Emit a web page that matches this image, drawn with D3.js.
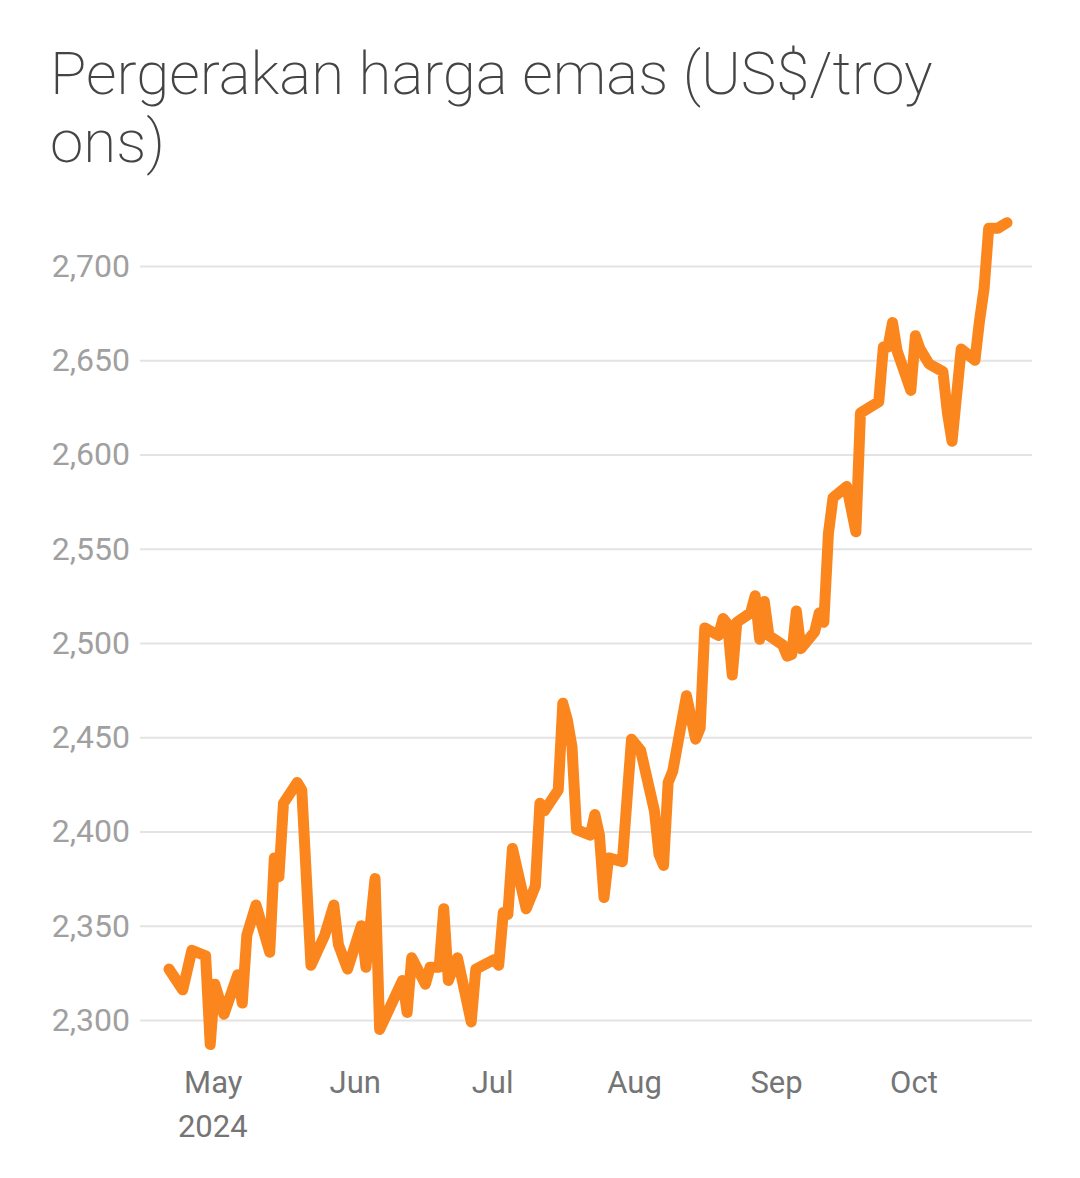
<!DOCTYPE html>
<html>
<head>
<meta charset="utf-8">
<script src="https://cdn.jsdelivr.net/npm/d3@7"></script>
<style>
  body { margin: 0; background: #fff; }
  svg { font-family: Roboto, sans-serif; }
</style>
</head>
<body>
<script>
const dates = ['2024-04-21','2024-04-24','2024-04-26','2024-04-29','2024-04-30','2024-05-01','2024-05-03','2024-05-06','2024-05-07','2024-05-08','2024-05-10','2024-05-13','2024-05-14','2024-05-15','2024-05-16','2024-05-19','2024-05-20','2024-05-22','2024-05-25','2024-05-27','2024-05-28','2024-05-30','2024-06-02','2024-06-03','2024-06-05','2024-06-06','2024-06-11','2024-06-12','2024-06-13','2024-06-16','2024-06-17','2024-06-19','2024-06-20','2024-06-21','2024-06-23','2024-06-26','2024-06-27','2024-07-01','2024-07-02','2024-07-03','2024-07-04','2024-07-05','2024-07-08','2024-07-10','2024-07-11','2024-07-12','2024-07-15','2024-07-16','2024-07-17','2024-07-18','2024-07-19','2024-07-22','2024-07-23','2024-07-24','2024-07-25','2024-07-26','2024-07-29','2024-07-31','2024-08-02','2024-08-05','2024-08-06','2024-08-07','2024-08-08','2024-08-09','2024-08-12','2024-08-14','2024-08-15','2024-08-16','2024-08-19','2024-08-20','2024-08-21','2024-08-22','2024-08-23','2024-08-26','2024-08-27','2024-08-28','2024-08-29','2024-08-30','2024-09-02','2024-09-03','2024-09-04','2024-09-05','2024-09-06','2024-09-09','2024-09-10','2024-09-11','2024-09-12','2024-09-13','2024-09-16','2024-09-18','2024-09-19','2024-09-23','2024-09-24','2024-09-25','2024-09-26','2024-09-27','2024-09-30','2024-10-01','2024-10-02','2024-10-04','2024-10-07','2024-10-08','2024-10-09','2024-10-11','2024-10-14','2024-10-15','2024-10-16','2024-10-17','2024-10-19','2024-10-21']
const prices = [2327,2316,2337,2334,2287,2319,2303,2324,2309,2345,2361,2336,2386,2376,2415,2426,2422,2329,2345,2361,2340,2327,2350,2328,2375,2295,2321,2304,2333,2319,2328,2328,2359,2321,2333,2299,2327,2332,2329,2357,2356,2391,2359,2371,2415,2411,2422,2468,2459,2445,2401,2398,2409,2398,2365,2386,2384,2449,2443,2411,2388,2382,2426,2432,2472,2449,2455,2508,2504,2513,2510,2483,2511,2516,2525,2502,2522,2504,2499,2493,2494,2517,2497,2506,2516,2511,2558,2577,2583,2559,2622,2628,2657,2657,2670,2655,2634,2663,2656,2648,2644,2622,2607,2656,2650,2671,2688,2720,2720,2723]
const yTicks = [2300, 2350, 2400, 2450, 2500, 2550, 2600, 2650, 2700]
const monthTicks = ['2024-05-01','2024-06-01','2024-07-01','2024-08-01','2024-09-01','2024-10-01']
const monthLabels = ['May', 'Jun', 'Jul', 'Aug', 'Sep', 'Oct']
const title = ['Pergerakan harga emas (US$/troy', 'ons)']

const w = 1080
const h = 1178
const parse = d3.timeParse('%Y-%m-%d')
const data = dates.map((d, i) => ({ date: parse(d), value: prices[i] }))

const xScale = d3.scaleTime()
  .domain([parse('2024-04-21'), parse('2024-10-21')])
  .range([169, 1007])

const yScale = d3.scaleLinear()
  .domain([2300, 2700])
  .range([1020, 266])

const svg = d3.select('body').append('svg')
  .attr('width', w)
  .attr('height', h)

svg.append('g')
  .selectAll('text')
  .data(title)
  .enter().append('text')
  .attr('x', 50)
  .attr('y', (d, i) => 94 + i * 68)
  .attr('font-size', 60)
  .attr('font-weight', 200)
  .attr('fill', '#444')
  .text(d => d)

// grid + y labels
const yAxis = d3.axisLeft(yScale)
  .tickValues(yTicks)
  .tickSize(-(1032 - 140))
  .tickPadding(10)
  .tickFormat(d3.format(','))

svg.append('g')
  .attr('transform', 'translate(140, 0)')
  .call(yAxis)
  .call(g => g.select('.domain').remove())
  .call(g => g.selectAll('line').attr('stroke', '#e3e3e3').attr('stroke-width', 2))
  .call(g => g.selectAll('text')
    .attr('font-size', 32)
    .attr('fill', '#a0a0a0')
    .attr('font-family', 'Roboto, sans-serif'))

const xAxis = d3.axisBottom(xScale)
  .tickValues(monthTicks.map(parse))
  .tickSize(0)
  .tickPadding(0)
  .tickFormat((d, i) => monthLabels[i])

svg.append('g')
  .attr('transform', 'translate(-2, 1093)')
  .call(xAxis)
  .call(g => g.select('.domain').remove())
  .call(g => g.selectAll('text')
    .attr('dy', 0)
    .attr('font-size', 31)
    .attr('fill', '#757575')
    .attr('font-family', 'Roboto, sans-serif'))

svg.append('text')
  .attr('x', xScale(parse('2024-05-01')) - 2)
  .attr('y', 1137)
  .attr('text-anchor', 'middle')
  .attr('font-size', 31)
  .attr('fill', '#757575')
  .text('2024')

const line = d3.line()
  .x(d => xScale(d.date))
  .y(d => yScale(d.value))

svg.append('path')
  .datum(data)
  .attr('d', line)
  .attr('fill', 'none')
  .attr('stroke', '#fb861e')
  .attr('stroke-width', 11)
  .attr('stroke-linejoin', 'round')
  .attr('stroke-linecap', 'round')
</script>
</body>
</html>
